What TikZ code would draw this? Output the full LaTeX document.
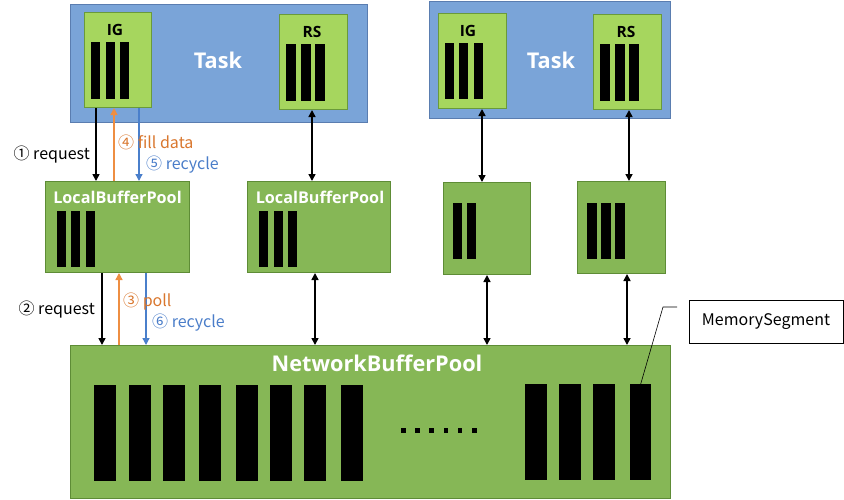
\documentclass[tikz,border=0pt]{standalone}
\usepackage{fontspec}
\setmainfont{Open Sans}
\newfontfamily\cjk{Noto Sans CJK SC}
\usetikzlibrary{arrows.meta}
\definecolor{taskblue}{HTML}{7AA4D8}
\definecolor{taskedge}{HTML}{5A7DB0}
\definecolor{iggreen}{HTML}{A6D65E}
\definecolor{igedge}{HTML}{6A9A3A}
\definecolor{poolgreen}{HTML}{86B756}
\definecolor{pooledge}{HTML}{5E8C36}
\definecolor{orarrow}{HTML}{EE8E42}
\definecolor{ortext}{HTML}{D9772E}
\definecolor{blarrow}{HTML}{4A7FCB}
\definecolor{bltext}{HTML}{4A7DC9}
\begin{document}
\begin{tikzpicture}[x=1pt,y=-1pt,
  taskbox/.style={draw=taskedge, fill=taskblue, line width=1pt, anchor=north west, inner sep=0pt},
  igbox/.style={draw=igedge, fill=iggreen, line width=1pt, anchor=north west, inner sep=0pt},
  poolbox/.style={draw=pooledge, fill=poolgreen, line width=1pt, anchor=north west, inner sep=0pt},
  whitelbl/.style={text=white, font=\bfseries\fontsize{21.7}{25}\selectfont},
  poollbl/.style={text=white, font=\bfseries\fontsize{16.2}{19}\selectfont},
  sublbl/.style={text=black, font=\bfseries\fontsize{15.5}{18}\selectfont},
  steplbl/.style={font=\cjk\fontsize{16}{19}\selectfont, inner sep=0pt},
  arr/.style={line width=1.6pt, -{Triangle[length=7pt,width=7pt]}},
  darr/.style={line width=1.6pt, {Triangle[length=7pt,width=7pt]}-{Triangle[length=7pt,width=7pt]}},
  bar/.style={fill=black, draw=none, anchor=north west, inner sep=0pt}
]
\useasboundingbox (0,0) rectangle (844,499);

% task boxes
\node[taskbox, minimum width=297pt, minimum height=118pt] (task1) at (70,4) {};
\node[taskbox, minimum width=241pt, minimum height=117pt] (task2) at (429,1) {};
\node[whitelbl] (tasklbl1) at (218,60) {Task};
\node[whitelbl] (tasklbl2) at (551,60) {Task};

% IG / RS boxes
\node[igbox, minimum width=67pt, minimum height=95pt] (ig1) at (84,12) {};
\node[igbox, minimum width=68pt, minimum height=95pt] (rs1) at (279,14) {};
\node[igbox, minimum width=68pt, minimum height=95pt] (ig2) at (438,13) {};
\node[igbox, minimum width=68pt, minimum height=95pt] (rs2) at (593,14) {};
\node[sublbl] (iglbl1) at (115,30) {IG};
\node[sublbl] (rslbl1) at (312,32) {RS};
\node[sublbl] (iglbl2) at (468,31) {IG};
\node[sublbl] (rslbl2) at (626,32) {RS};

\foreach \x in {91,105.5,120} \fill (\x,42) rectangle ++(9,57);
\foreach \x in {286,301,315} \fill (\x,44) rectangle ++(10,57);
\foreach \x in {445,459,474} \fill (\x,43) rectangle ++(9,56);
\foreach \x in {600,615,629} \fill (\x,44) rectangle ++(10,57);

% local buffer pools
\node[poolbox, minimum width=144pt, minimum height=91pt] (lbp1) at (45,181) {};
\node[poolbox, minimum width=143pt, minimum height=91pt] (lbp2) at (247,181) {};
\node[poolbox, minimum width=87pt, minimum height=92pt] (lbp3) at (443,182) {};
\node[poolbox, minimum width=88pt, minimum height=92pt] (lbp4) at (577,181) {};
\node[poollbl] (lbplbl1) at (117.5,197) {LocalBufferPool};
\node[poollbl] (lbplbl2) at (320,197) {LocalBufferPool};

\foreach \x in {57,71,86} \fill (\x,211) rectangle ++(9,56);
\foreach \x in {259,274,288} \fill (\x,211) rectangle ++(9,56);
\foreach \x in {453,467} \fill (\x,203) rectangle ++(9,56);
\foreach \x in {587,601,615} \fill (\x,203) rectangle ++(9.5,56);

% network buffer pool
\node[poolbox, minimum width=600pt, minimum height=153pt] (nbp) at (70,345) {};
\node[whitelbl] (nbplbl) at (377,363) {NetworkBufferPool};
\foreach \x in {94,129,163,199,236,270,304,341} \fill (\x,385) rectangle ++(22,96);
\foreach \x in {525,559,593} \fill (\x,384) rectangle ++(22,96);
\node[bar, minimum width=21pt, minimum height=96pt] (ms) at (630,384) {};
\foreach \i in {0,...,5} \fill (401+\i*14.2,428) rectangle ++(4.5,4.5);

% memory segment callout
\node[draw=black, line width=0.8pt, minimum width=154pt, minimum height=43pt, inner sep=0pt, font=\cjk\fontsize{16}{19}\selectfont] (mslbl) at (766,322) {MemorySegment};
\coordinate (msc1) at (677,307);
\coordinate (msc2) at (663,307);
\draw[line width=0.6pt] (msc1) -- (msc2) -- (ms.north);

% arrows task -> local pool
\draw[arr] (ig1.south -| 96,0) -- (lbp1.north -| 96,0);
\draw[arr, draw=orarrow, fill=orarrow, line width=1.3pt] (lbp1.north -| 114,0) -- (ig1.south -| 114,0);
\draw[arr, draw=blarrow, fill=blarrow, line width=1.3pt] (ig1.south -| 139,0) -- (lbp1.north -| 139,0);
\draw[darr] (rs1.south -| 312,0) -- (lbp2.north -| 312,0);
\draw[darr] (ig2.south -| 482,0) -- (lbp3.north -| 482,0);
\draw[darr] (rs2.south -| 629,0) -- (lbp4.north -| 629,0);

% arrows local pool -> network pool
\draw[arr] (lbp1.south -| 102,0) -- (nbp.north -| 102,0);
\draw[arr, draw=orarrow, fill=orarrow, line width=1.3pt] (nbp.north -| 119,0) -- (lbp1.south -| 119,0);
\draw[arr, draw=blarrow, fill=blarrow, line width=1.3pt] (lbp1.south -| 146,0) -- (nbp.north -| 146,0);
\draw[darr] (lbp2.south -| 315,0) -- (nbp.north -| 315,0);
\draw[darr] (lbp3.south -| 487,0) -- (nbp.north -| 487,0);
\draw[darr] (lbp4.south -| 627,0) -- (nbp.north -| 627,0);

% step labels
\node[steplbl, anchor=east] (s1) at (90,155) {① request};
\node[steplbl, anchor=west, text=ortext] (s4) at (118,142) {④ fill data};
\node[steplbl, anchor=west, text=bltext] (s5) at (146,165) {⑤ recycle};
\node[steplbl, anchor=east] (s2) at (95,310) {② request};
\node[steplbl, anchor=west, text=ortext] (s3) at (123,302) {③ poll};
\node[steplbl, anchor=west, text=bltext] (s6) at (152,323) {⑥ recycle};
\end{tikzpicture}
\end{document}
